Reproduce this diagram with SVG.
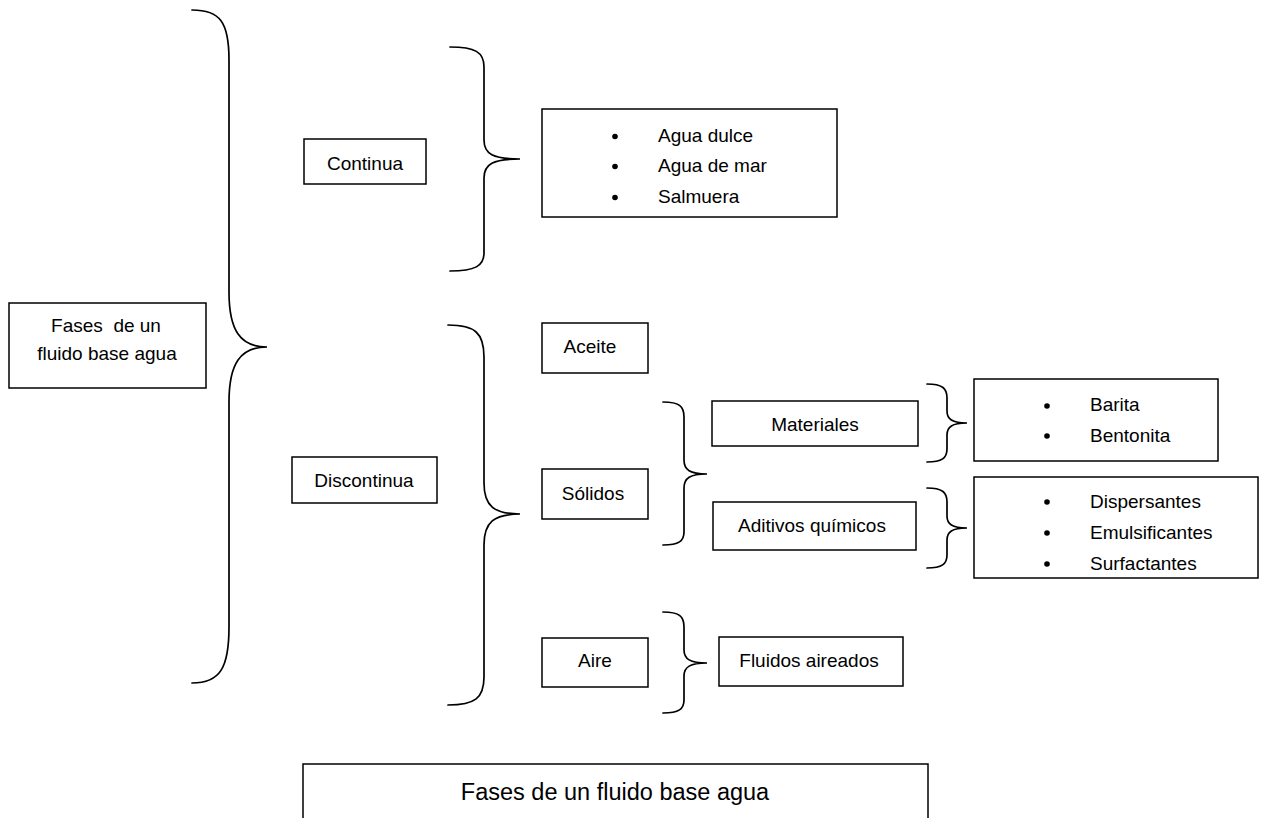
<svg xmlns="http://www.w3.org/2000/svg" width="1261" height="818" viewBox="0 0 1261 818">
  <style>
    .box { fill: #ffffff; stroke: #000000; stroke-width: 1.5; }
    .brace { fill: none; stroke: #000000; stroke-width: 1.7; stroke-linecap: round; }
    text { font-family: "Liberation Sans", Arial, sans-serif; font-size: 19px; fill: #000000; }
    .c { text-anchor: middle; }
    .pre { white-space: pre; }
    .dot { fill: #000000; }
    .title { font-size: 23.5px; }
  </style>

  <rect x="0" y="0" width="1261" height="818" fill="#ffffff"/>

  <!-- curly braces linking each phase to its parts -->
  <g id="connectors">
    <path class="brace" d="M192,10 C220,10 229,22 229,60 L229,292 C229,330 240,347 267,347 C240,347 229,364 229,402 L229,627 C229,668 220,683 192,683"/>
    <path class="brace" d="M450,47 C475,47 484,52 484,67 L484,140 C484,154 493,159 520,159 C493,159 484,164 484,178 L484,253 C484,266 475,271 450,271"/>
    <path class="brace" d="M448,325 C475,325 484,333 484,357 L484,483 C484,506 494,514 520,514 C494,514 484,522 484,545 L484,677 C484,698 475,705 448,705"/>
    <path class="brace" d="M663,402 C679,402 684,406 684,417 L684,460 C684,470 690,474 707,474 C690,474 684,478 684,488 L684,532 C684,541 679,545 663,545"/>
    <path class="brace" d="M663,612 C679,612 684,616 684,627 L684,650 C684,659 690,663 707,663 C690,663 684,667 684,676 L684,700 C684,709 679,713 663,713"/>
    <path class="brace" d="M927,384 C942,384 947,388 947,398 L947,411 C947,419 952,423 967,423 C952,423 947,427 947,435 L947,449 C947,458 942,462 927,462"/>
    <path class="brace" d="M927,488 C942,488 947,492 947,502 L947,516 C947,524 952,528 967,528 C952,528 947,532 947,540 L947,555 C947,564 942,568 927,568"/>
  </g>

  <g id="fases">
    <rect class="box" x="9" y="303" width="197" height="85"/>
    <text class="c pre" x="106" y="332">Fases  de un</text>
    <text class="c" x="107" y="360">fluido base agua</text>
  </g>

  <g id="continua">
    <rect class="box" x="304" y="139" width="122" height="45"/>
    <text class="c" x="365" y="170">Continua</text>
  </g>

  <g id="continua-list">
    <rect class="box" x="542" y="109" width="295" height="108"/>
    <circle class="dot" cx="615" cy="136.5" r="2.8"/>
    <circle class="dot" cx="615" cy="166.5" r="2.8"/>
    <circle class="dot" cx="615" cy="197.5" r="2.8"/>
    <text x="658" y="142">Agua dulce</text>
    <text x="658" y="172">Agua de mar</text>
    <text x="658" y="203">Salmuera</text>
  </g>

  <g id="discontinua">
    <rect class="box" x="292" y="457" width="145" height="46"/>
    <text class="c" x="364" y="487">Discontinua</text>
  </g>

  <g id="aceite">
    <rect class="box" x="542" y="323" width="106" height="50"/>
    <text class="c" x="590" y="353">Aceite</text>
  </g>

  <g id="solidos">
    <rect class="box" x="542" y="469" width="106" height="50"/>
    <text class="c" x="593" y="500">Sólidos</text>
  </g>

  <g id="aire">
    <rect class="box" x="542" y="638" width="106" height="49"/>
    <text class="c" x="595" y="667">Aire</text>
  </g>

  <g id="materiales">
    <rect class="box" x="712" y="401" width="206" height="45"/>
    <text class="c" x="815" y="431">Materiales</text>
  </g>

  <g id="aditivos">
    <rect class="box" x="713" y="502" width="203" height="48"/>
    <text class="c" x="812" y="532">Aditivos químicos</text>
  </g>

  <g id="fluidos-aireados">
    <rect class="box" x="719" y="637" width="184" height="49"/>
    <text class="c" x="809" y="667">Fluidos aireados</text>
  </g>

  <g id="materiales-list">
    <rect class="box" x="974" y="379" width="244" height="82"/>
    <circle class="dot" cx="1047" cy="406" r="2.8"/>
    <circle class="dot" cx="1047" cy="436" r="2.8"/>
    <text x="1090" y="411">Barita</text>
    <text x="1090" y="442">Bentonita</text>
  </g>

  <g id="aditivos-list">
    <rect class="box" x="974" y="477" width="284" height="101"/>
    <circle class="dot" cx="1047" cy="502" r="2.8"/>
    <circle class="dot" cx="1047" cy="533" r="2.8"/>
    <circle class="dot" cx="1047" cy="564" r="2.8"/>
    <text x="1090" y="508">Dispersantes</text>
    <text x="1090" y="539">Emulsificantes</text>
    <text x="1090" y="570">Surfactantes</text>
  </g>

  <g id="caption">
    <rect class="box" x="303" y="764" width="625" height="70"/>
    <text class="c title" x="615" y="800">Fases de un fluido base agua</text>
  </g>
</svg>
